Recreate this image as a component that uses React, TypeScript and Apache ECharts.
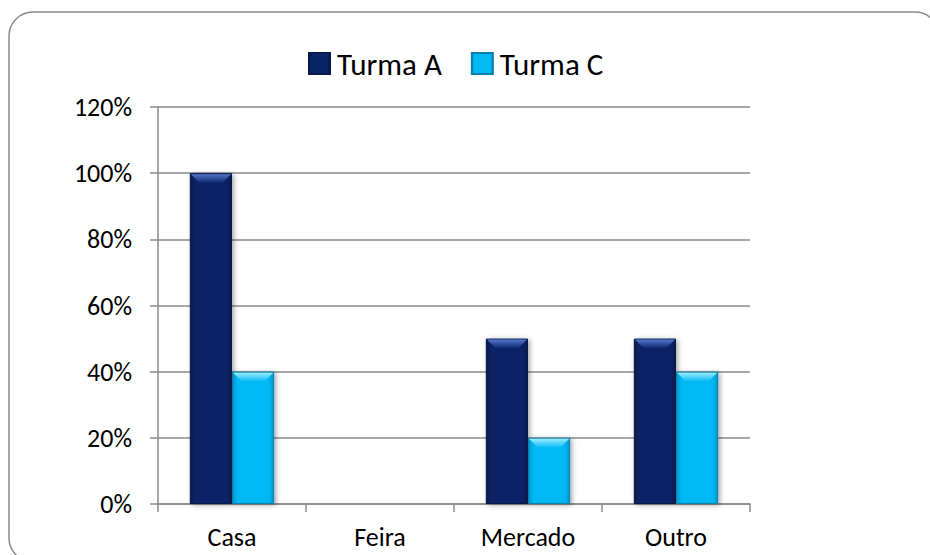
import React, { useEffect, useRef } from "react";
import * as echarts from "echarts";

const categories = ["Casa", "Feira", "Mercado", "Outro"];
const turmaA = [1.0, 0, 0.5, 0.5];
const turmaC = [0.4, 0, 0.2, 0.4];
const seriesNames = ["Turma A", "Turma C"];
const yTicks = { min: 0, max: 1.2, interval: 0.2 };

const FONT = "Carlito, Lato, 'Open Sans', sans-serif";

const colA = { main: "#0b2466", edge: "#061846", top: "#5577cc", border: "#061a4d" };
const colC = { main: "#05b9f4", edge: "#0096cc", top: "#9aeeff", border: "#0a7fa8" };

function sideGradient(c: { main: string; edge: string }) {
  return new echarts.graphic.LinearGradient(0, 0, 1, 0, [
    { offset: 0, color: c.edge },
    { offset: 0.12, color: c.main },
    { offset: 0.88, color: c.main },
    { offset: 1, color: c.edge },
  ]);
}

function bevelSeries(name: string, values: number[], idx: number, c: { top: string; main: string }) {
  return {
    type: "custom",
    name,
    z: 5,
    silent: true,
    data: values.map((v, i) => [i, v]),
    renderItem: (params: any, api: any) => {
      const v = api.value(1);
      if (!v) return null;
      const cat = api.value(0);
      const topPt = api.coord([cat, v]);
      const catW = api.size([1, 0])[0];
      const barW = catW * 0.57 / 2;
      const left = idx === 0 ? topPt[0] - barW : topPt[0];
      const t = topPt[1];
      const h = 10;
      return {
        type: "polygon",
        shape: {
          points: [
            [left + 1, t + 1],
            [left + barW - 1, t + 1],
            [left + barW - h, t + h],
            [left + h, t + h],
          ],
        },
        style: {
          fill: new echarts.graphic.LinearGradient(0, 0, 0, 1, [
            { offset: 0, color: c.top },
            { offset: 1, color: c.main },
          ]),
        },
      };
    },
  };
}

export default function App() {
  const ref = useRef<HTMLDivElement>(null);
  useEffect(() => {
    if (!ref.current) return;
    const chart = echarts.init(ref.current, undefined, { renderer: "svg" });
    chart.setOption({
      animation: false,
      backgroundColor: "#ffffff",
      graphic: [
        {
          type: "rect",
          shape: { x: 9, y: 12, width: 930, height: 550, r: 24 },
          style: { fill: "none", stroke: "#8a8a8a", lineWidth: 1.5 },
          z: 0,
        },
      ],
      legend: {
        data: seriesNames,
        icon: "rect",
        left: 308,
        top: 48,
        padding: 0,
        itemWidth: 21,
        itemHeight: 21,
        itemGap: 29,
        textStyle: { fontFamily: FONT, fontSize: 31, color: "#000", padding: [0, 0, 0, 2] },
      },
      grid: { left: 158, right: 180, top: 107, bottom: 51, containLabel: false },
      xAxis: {
        type: "category",
        data: categories,
        axisLine: { show: true, lineStyle: { color: "#8a8a8a", width: 1.5 } },
        axisTick: { show: true, length: 8, alignWithLabel: false, lineStyle: { color: "#8a8a8a", width: 1.5 } },
        axisLabel: { fontFamily: FONT, fontSize: 26, color: "#000", margin: 20 },
      },
      yAxis: {
        type: "value",
        min: yTicks.min,
        max: yTicks.max,
        interval: yTicks.interval,
        axisLine: { show: true, lineStyle: { color: "#8a8a8a", width: 1.5 } },
        axisTick: { show: true, length: 8, lineStyle: { color: "#8a8a8a", width: 1.5 } },
        splitLine: { show: true, lineStyle: { color: "#8a8a8a", width: 1.5 } },
        axisLabel: {
          fontFamily: FONT,
          fontSize: 26,
          color: "#000",
          margin: 26,
          formatter: (v: number) => Math.round(v * 100) + "%",
        },
      },
      series: [
        {
          type: "bar",
          name: seriesNames[0],
          data: turmaA,
          barGap: "0%",
          barCategoryGap: "43%",
          itemStyle: {
            color: sideGradient(colA),
            borderColor: colA.border,
            borderWidth: 1,
            shadowColor: "rgba(0,0,0,0.35)",
            shadowBlur: 5,
            shadowOffsetX: 2,
            shadowOffsetY: 1,
          },
        },
        {
          type: "bar",
          name: seriesNames[1],
          data: turmaC,
          barGap: "0%",
          barCategoryGap: "43%",
          itemStyle: {
            color: sideGradient(colC),
            borderColor: colC.border,
            borderWidth: 1,
            shadowColor: "rgba(0,0,0,0.35)",
            shadowBlur: 5,
            shadowOffsetX: 2,
            shadowOffsetY: 1,
          },
        },
        bevelSeries("bevelA", turmaA, 0, colA),
        bevelSeries("bevelC", turmaC, 1, colC),
      ],
    });
    return () => chart.dispose();
  }, []);
  return (
    <div
      ref={ref}
      style={{ position: "fixed", left: 0, top: 0, width: 930, height: 555 }}
    />
  );
}
